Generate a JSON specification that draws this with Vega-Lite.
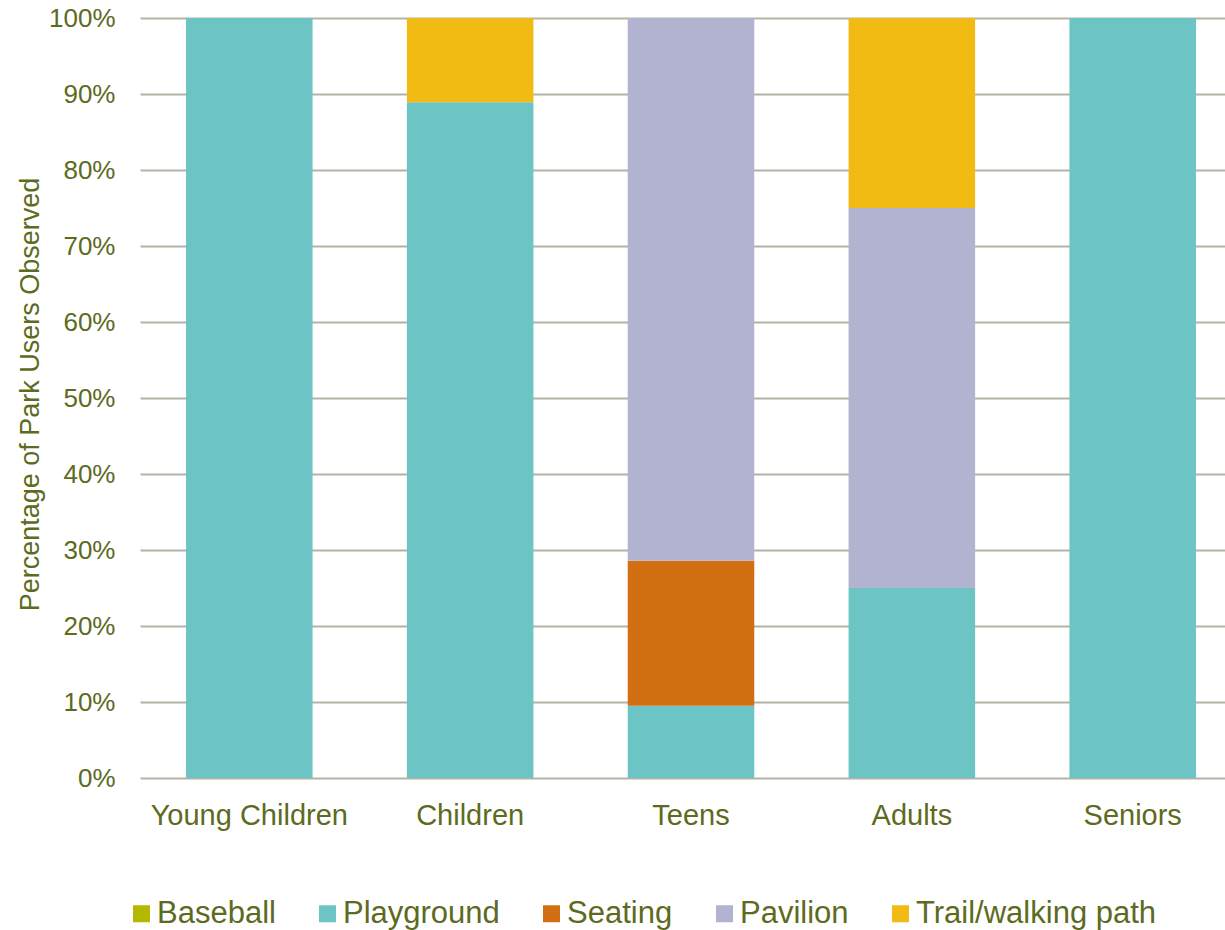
{
  "$schema": "https://vega.github.io/schema/vega-lite/v6.json",
  "width": 1102,
  "height": 760,
  "autosize": {"type": "none"},
  "padding": {"left": 140, "top": 18, "right": 0, "bottom": 152},
  "background": "white",
  "config": {
    "view": {"stroke": null},
    "font": "Liberation Sans",
    "axis": {"labelFont": "Liberation Sans", "titleFont": "Liberation Sans", "labelColor": "#5c6b1e", "titleColor": "#5c6b1e"},
    "legend": {"labelFont": "Liberation Sans", "labelColor": "#5c6b1e"}
  },
  "data": {
    "values": [
      {"group": "Young Children", "feature": "Playground", "rank": 2, "pct": 100},
      {"group": "Children", "feature": "Playground", "rank": 2, "pct": 88.9},
      {"group": "Children", "feature": "Trail/walking path", "rank": 5, "pct": 11.1},
      {"group": "Teens", "feature": "Playground", "rank": 2, "pct": 9.52},
      {"group": "Teens", "feature": "Seating", "rank": 3, "pct": 19.05},
      {"group": "Teens", "feature": "Pavilion", "rank": 4, "pct": 71.43},
      {"group": "Adults", "feature": "Playground", "rank": 2, "pct": 25},
      {"group": "Adults", "feature": "Pavilion", "rank": 4, "pct": 50},
      {"group": "Adults", "feature": "Trail/walking path", "rank": 5, "pct": 25},
      {"group": "Seniors", "feature": "Playground", "rank": 2, "pct": 100}
    ]
  },
  "mark": {"type": "bar"},
  "encoding": {
    "x": {
      "field": "group",
      "type": "nominal",
      "sort": ["Young Children", "Children", "Teens", "Adults", "Seniors"],
      "scale": {"paddingInner": 0.427, "paddingOuter": 0.2084},
      "axis": {"title": null, "labelAngle": 0, "domain": false, "ticks": false, "labelFontSize": 29, "labelPadding": 23, "labelLimit": 400}
    },
    "y": {
      "field": "pct",
      "type": "quantitative",
      "stack": "zero",
      "scale": {"domain": [0, 100], "nice": false},
      "axis": {
        "title": "Percentage of Park Users Observed",
        "titleFontSize": 27,
        "titleFontWeight": "normal",
        "titleX": -102,
        "titleY": 376,
        "titleBaseline": "alphabetic",
        "values": [0, 10, 20, 30, 40, 50, 60, 70, 80, 90, 100],
        "labelExpr": "datum.value + '%'",
        "labelFontSize": 26,
        "labelPadding": 25,
        "domain": false,
        "ticks": false,
        "grid": true,
        "gridColor": "#b3b3a6",
        "gridWidth": 2
      }
    },
    "order": {"field": "rank", "type": "quantitative", "sort": "ascending"},
    "color": {
      "field": "feature",
      "type": "nominal",
      "scale": {
        "domain": ["Baseball", "Playground", "Seating", "Pavilion", "Trail/walking path"],
        "range": ["#b4b900", "#6cc4c4", "#d36f13", "#b2b2d1", "#f2bb13"]
      },
      "legend": {
        "title": null,
        "orient": "none",
        "direction": "horizontal",
        "legendX": -14,
        "legendY": 880,
        "symbolType": "square",
        "symbolSize": 289,
        "symbolStrokeWidth": 0,
        "labelFontSize": 31,
        "labelOffset": 0,
        "columnPadding": 36,
        "labelLimit": 400
      }
    }
  }
}
